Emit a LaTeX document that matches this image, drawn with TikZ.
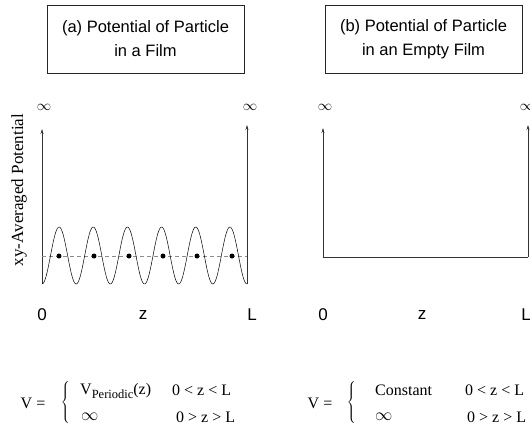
\documentclass[tikz,border=0pt]{standalone}
\usepackage{fontspec}
\setmainfont{Liberation Serif}
\newfontfamily\hsans{Liberation Sans}
\usetikzlibrary{arrows.meta}
\begin{document}
\begin{tikzpicture}[x=1pt,y=-1pt,
  titlebox/.style={draw=black!85, line width=0.7pt, minimum width=197pt, minimum height=68pt,
    align=center, font=\hsans\fontsize{16.5}{24}\selectfont},
  axlab/.style={font=\hsans\fontsize{17}{17}\selectfont, inner sep=0pt},
  inf/.style={font=\fontsize{13.5}{13.5}\selectfont, inner sep=0pt},
  eq/.style={font=\fontsize{16}{16}\selectfont, inner sep=0pt},
  wall/.style={-{Stealth[length=5pt,width=3pt]}, line width=0.6pt, black!80},
  base/.style={line width=0.6pt, black!80},
  wave/.style={line width=0.5pt, black},
  guide/.style={dashed, dash pattern=on 4pt off 3pt, line width=0.5pt, black!45},
  dot/.style={circle, fill=black, inner sep=0pt, minimum size=5pt}]
\useasboundingbox (0,0) rectangle (530,429);

% title boxes
\node[titlebox] (ta) at (145.5,39) {(a) Potential of Particle\\in a Film};
\node[titlebox] (tb) at (423.5,39) {(b) Potential of Particle\\in an Empty Film};

% infinity labels
\node[inf] (ia1) at (44,107) {$\infty$};
\node[inf] (ia2) at (250,107) {$\infty$};
\node[inf] (ib1) at (325,107) {$\infty$};
\node[inf] (ib2) at (527,107) {$\infty$};

% y-axis label
\node[rotate=90, font=\fontsize{17}{17}\selectfont, inner sep=0pt] (ylab) at (19,190) {xy-Averaged Potential};

% panel (a)
\coordinate (a0) at (42,284);
\coordinate (a0t) at (42,129);
\coordinate (aL) at (247,284);
\coordinate (aLt) at (247,125);
\draw[wall] (a0) -- (a0t);
\draw[wall] (aL) -- (aLt);
\draw[guide] (42,256) -- (247,256);
\draw[wave] plot[domain=42:247, samples=240, smooth] (\x, {255.5+28.5*cos(10.5366*(\x-42))});
\foreach \i/\xx in {1/59,2/94,3/129,4/163,5/197,6/232} {
  \node[dot] (d\i) at (\xx,256) {};
}

% panel (b)
\coordinate (b0) at (323,257);
\coordinate (b0t) at (323,128);
\coordinate (bL) at (528,257);
\coordinate (bLt) at (528,125);
\draw[wall] (b0) -- (b0t);
\draw[wall] (bL) -- (bLt);
\draw[base] (b0) -- (bL);

% axis labels
\node[axlab] (za0) at (42,315) {0};
\node[axlab] (zaz) at (143,315) {z};
\node[axlab] (zaL) at (252,315) {L};
\node[axlab] (zb0) at (323,315) {0};
\node[axlab] (zbz) at (422,315) {z};
\node[axlab] (zbL) at (526,315) {L};

% formula (a)
\node[eq] (va) at (33,403) {V =};
\node[inner sep=0pt] (bra) at (66,403) {$\left\{\vrule height 19pt depth 19pt width 0pt\right.$};
\node[eq, anchor=west] (vpa) at (80,391) {V\raisebox{-4pt}{\fontsize{12.5}{12.5}\selectfont Periodic}(z)};
\node[eq, anchor=west] (ca1) at (172,390) {0 < z < L};
\node[eq, anchor=west, font=\fontsize{17}{17}\selectfont] (infa) at (81,417) {$\infty$};
\node[eq, anchor=west] (ca2) at (176,417) {0 > z > L};

% formula (b)
\node[eq] (vb) at (320,403) {V =};
\node[inner sep=0pt] (brb) at (352,403) {$\left\{\vrule height 19pt depth 19pt width 0pt\right.$};
\node[eq, anchor=west] (cst) at (375,390) {Constant};
\node[eq, anchor=west, font=\fontsize{17}{17}\selectfont] (infb) at (375,417) {$\infty$};
\node[eq, anchor=west] (cb1) at (465,390) {0 < z < L};
\node[eq, anchor=west] (cb2) at (467,417) {0 > z > L};
\end{tikzpicture}
\end{document}
